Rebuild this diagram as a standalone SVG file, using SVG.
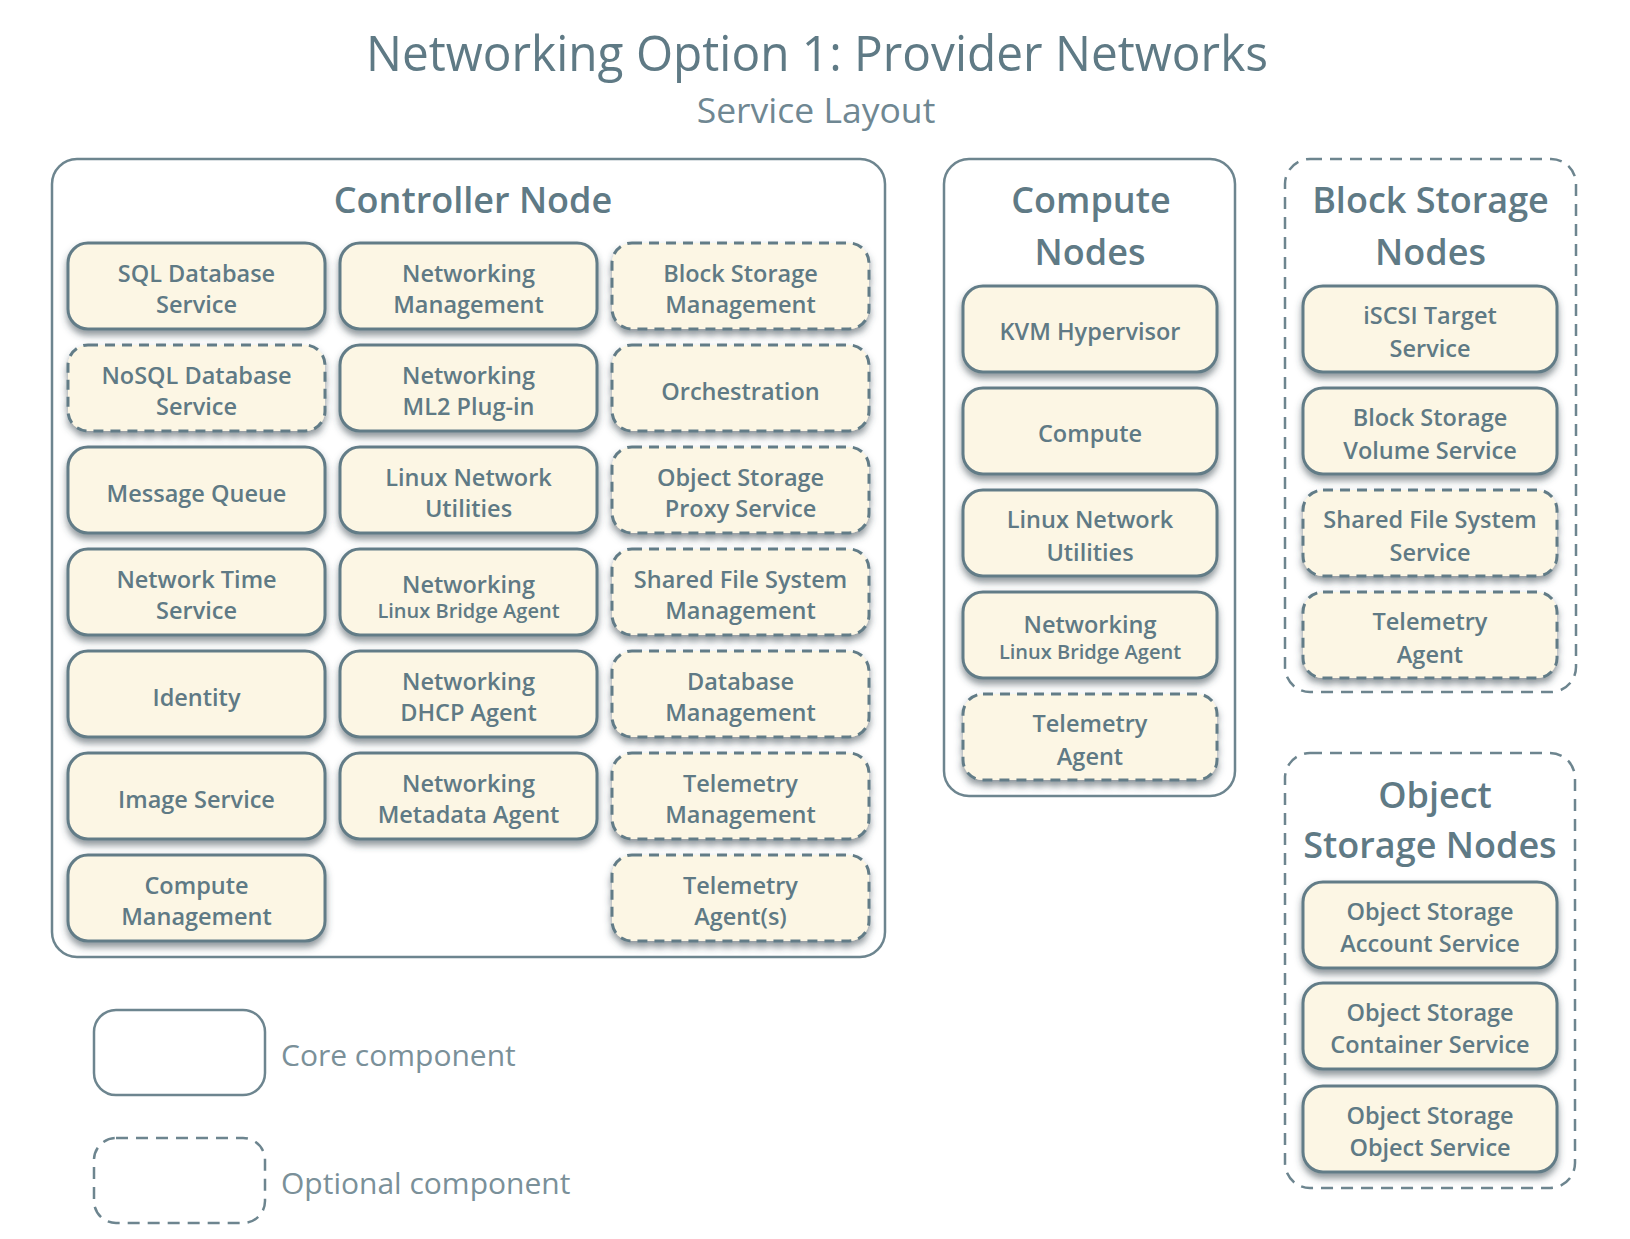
<svg xmlns="http://www.w3.org/2000/svg" width="1630" height="1239" viewBox="0 0 1630 1239">
  <defs>
    <filter id="sh" x="-10%" y="-15%" width="120%" height="150%">
      <feDropShadow dx="0" dy="5" stdDeviation="3.5" flood-color="#34454d" flood-opacity="0.55"/>
    </filter>
    <style>
      .title { font-family: "Open Sans", "Liberation Sans", sans-serif; font-weight: 400; fill: #5f7a85; }
      .sub { font-family: "Open Sans", "Liberation Sans", sans-serif; font-weight: 400; fill: #6f8792; }
      .ctr { fill: #ffffff; stroke: #6d858f; stroke-width: 2.5; }
      .ctr.opt { stroke-dasharray: 12 8; }
      .ctitle { font-family: "Open Sans", "Liberation Sans", sans-serif; font-weight: 600; font-size: 36px; fill: #5f7a85; text-anchor: middle; }
      .box { fill: #fcf6e4; stroke: #627c87; stroke-width: 3; filter: url(#sh); }
      .box.opt { stroke-dasharray: 10 7; }
      .lbl { font-family: "Open Sans", "Liberation Sans", sans-serif; font-weight: 600; font-size: 23.5px; fill: #5f7a85; text-anchor: middle; }
      .small { font-size: 20px; }
      .leg { fill: none; stroke: #6d858f; stroke-width: 2.5; }
      .leg.opt { stroke-dasharray: 12 8; }
      .legt { font-family: "Open Sans", "Liberation Sans", sans-serif; font-weight: 400; font-size: 30px; fill: #7a9099; }
    </style>
  </defs>

  <!-- heading -->
  <text class="title" x="817" y="71" font-size="50" text-anchor="middle" textLength="902" lengthAdjust="spacingAndGlyphs">Networking Option 1: Provider Networks</text>
  <text class="sub" x="816" y="123" font-size="35.5" text-anchor="middle">Service Layout</text>

  <!-- Controller Node -->
  <g id="controller-node">
    <rect class="ctr" x="52" y="159" width="833" height="798" rx="25"/>
    <text class="ctitle" x="473" y="213">Controller Node</text>

    <g id="sql-db"><rect class="box" x="68" y="243" width="257" height="86" rx="20"/>
      <text class="lbl"><tspan x="196.5" y="282">SQL Database</tspan><tspan x="196.5" y="313">Service</tspan></text></g>
    <g id="nosql-db"><rect class="box opt" x="68" y="345" width="257" height="86" rx="20"/>
      <text class="lbl"><tspan x="196.5" y="384">NoSQL Database</tspan><tspan x="196.5" y="415">Service</tspan></text></g>
    <g id="message-queue"><rect class="box" x="68" y="447" width="257" height="86" rx="20"/>
      <text class="lbl" x="196.5" y="502">Message Queue</text></g>
    <g id="ntp"><rect class="box" x="68" y="549" width="257" height="86" rx="20"/>
      <text class="lbl"><tspan x="196.5" y="588">Network Time</tspan><tspan x="196.5" y="619">Service</tspan></text></g>
    <g id="identity"><rect class="box" x="68" y="651" width="257" height="86" rx="20"/>
      <text class="lbl" x="196.5" y="706">Identity</text></g>
    <g id="image-service"><rect class="box" x="68" y="753" width="257" height="86" rx="20"/>
      <text class="lbl" x="196.5" y="808">Image Service</text></g>
    <g id="compute-mgmt"><rect class="box" x="68" y="855" width="257" height="86" rx="20"/>
      <text class="lbl"><tspan x="196.5" y="894">Compute</tspan><tspan x="196.5" y="925">Management</tspan></text></g>

    <g id="net-mgmt"><rect class="box" x="340" y="243" width="257" height="86" rx="20"/>
      <text class="lbl"><tspan x="468.5" y="282">Networking</tspan><tspan x="468.5" y="313">Management</tspan></text></g>
    <g id="net-ml2"><rect class="box" x="340" y="345" width="257" height="86" rx="20"/>
      <text class="lbl"><tspan x="468.5" y="384">Networking</tspan><tspan x="468.5" y="415">ML2 Plug-in</tspan></text></g>
    <g id="ctl-linux-net"><rect class="box" x="340" y="447" width="257" height="86" rx="20"/>
      <text class="lbl"><tspan x="468.5" y="486">Linux Network</tspan><tspan x="468.5" y="517">Utilities</tspan></text></g>
    <g id="ctl-lb-agent"><rect class="box" x="340" y="549" width="257" height="86" rx="20"/>
      <text class="lbl"><tspan x="468.5" y="593">Networking</tspan><tspan class="small" x="468.5" y="618">Linux Bridge Agent</tspan></text></g>
    <g id="dhcp-agent"><rect class="box" x="340" y="651" width="257" height="86" rx="20"/>
      <text class="lbl"><tspan x="468.5" y="690">Networking</tspan><tspan x="468.5" y="721">DHCP Agent</tspan></text></g>
    <g id="metadata-agent"><rect class="box" x="340" y="753" width="257" height="86" rx="20"/>
      <text class="lbl"><tspan x="468.5" y="792">Networking</tspan><tspan x="468.5" y="823">Metadata Agent</tspan></text></g>

    <g id="block-mgmt"><rect class="box opt" x="612" y="243" width="257" height="86" rx="20"/>
      <text class="lbl"><tspan x="740.5" y="282">Block Storage</tspan><tspan x="740.5" y="313">Management</tspan></text></g>
    <g id="orchestration"><rect class="box opt" x="612" y="345" width="257" height="86" rx="20"/>
      <text class="lbl" x="740.5" y="400">Orchestration</text></g>
    <g id="object-proxy"><rect class="box opt" x="612" y="447" width="257" height="86" rx="20"/>
      <text class="lbl"><tspan x="740.5" y="486">Object Storage</tspan><tspan x="740.5" y="517">Proxy Service</tspan></text></g>
    <g id="share-mgmt"><rect class="box opt" x="612" y="549" width="257" height="86" rx="20"/>
      <text class="lbl"><tspan x="740.5" y="588">Shared File System</tspan><tspan x="740.5" y="619">Management</tspan></text></g>
    <g id="db-mgmt"><rect class="box opt" x="612" y="651" width="257" height="86" rx="20"/>
      <text class="lbl"><tspan x="740.5" y="690">Database</tspan><tspan x="740.5" y="721">Management</tspan></text></g>
    <g id="telemetry-mgmt"><rect class="box opt" x="612" y="753" width="257" height="86" rx="20"/>
      <text class="lbl"><tspan x="740.5" y="792">Telemetry</tspan><tspan x="740.5" y="823">Management</tspan></text></g>
    <g id="telemetry-agents"><rect class="box opt" x="612" y="855" width="257" height="86" rx="20"/>
      <text class="lbl"><tspan x="740.5" y="894">Telemetry</tspan><tspan x="740.5" y="925">Agent(s)</tspan></text></g>
  </g>

  <!-- Compute Nodes -->
  <g id="compute-nodes">
    <rect class="ctr" x="944" y="159" width="291" height="637" rx="25"/>
    <text class="ctitle"><tspan x="1091" y="213">Compute</tspan><tspan x="1090" y="265">Nodes</tspan></text>
    <g id="kvm"><rect class="box" x="963" y="286" width="254" height="86" rx="20"/>
      <text class="lbl" x="1090" y="340">KVM Hypervisor</text></g>
    <g id="compute"><rect class="box" x="963" y="388" width="254" height="86" rx="20"/>
      <text class="lbl" x="1090" y="442">Compute</text></g>
    <g id="cmp-linux-net"><rect class="box" x="963" y="490" width="254" height="86" rx="20"/>
      <text class="lbl"><tspan x="1090" y="528">Linux Network</tspan><tspan x="1090" y="561">Utilities</tspan></text></g>
    <g id="cmp-lb-agent"><rect class="box" x="963" y="592" width="254" height="86" rx="20"/>
      <text class="lbl"><tspan x="1090" y="633">Networking</tspan><tspan class="small" x="1090" y="659">Linux Bridge Agent</tspan></text></g>
    <g id="cmp-telemetry"><rect class="box opt" x="963" y="694" width="254" height="86" rx="20"/>
      <text class="lbl"><tspan x="1090" y="732">Telemetry</tspan><tspan x="1090" y="765">Agent</tspan></text></g>
  </g>

  <!-- Block Storage Nodes -->
  <g id="block-storage-nodes">
    <rect class="ctr opt" x="1285" y="159" width="291" height="533" rx="25"/>
    <text class="ctitle"><tspan x="1430.5" y="213">Block Storage</tspan><tspan x="1430.5" y="265">Nodes</tspan></text>
    <g id="iscsi"><rect class="box" x="1303" y="286" width="254" height="86" rx="20"/>
      <text class="lbl"><tspan x="1430" y="324">iSCSI Target</tspan><tspan x="1430" y="357">Service</tspan></text></g>
    <g id="volume"><rect class="box" x="1303" y="388" width="254" height="86" rx="20"/>
      <text class="lbl"><tspan x="1430" y="426">Block Storage</tspan><tspan x="1430" y="459">Volume Service</tspan></text></g>
    <g id="share-service"><rect class="box opt" x="1303" y="490" width="254" height="86" rx="20"/>
      <text class="lbl"><tspan x="1430" y="528">Shared File System</tspan><tspan x="1430" y="561">Service</tspan></text></g>
    <g id="blk-telemetry"><rect class="box opt" x="1303" y="592" width="254" height="86" rx="20"/>
      <text class="lbl"><tspan x="1430" y="630">Telemetry</tspan><tspan x="1430" y="663">Agent</tspan></text></g>
  </g>

  <!-- Object Storage Nodes -->
  <g id="object-storage-nodes">
    <rect class="ctr opt" x="1285" y="753" width="290" height="435" rx="25"/>
    <text class="ctitle"><tspan x="1435" y="808">Object</tspan><tspan x="1430" y="858">Storage Nodes</tspan></text>
    <g id="account"><rect class="box" x="1303" y="882" width="254" height="86" rx="20"/>
      <text class="lbl"><tspan x="1430" y="920">Object Storage</tspan><tspan x="1430" y="952">Account Service</tspan></text></g>
    <g id="container"><rect class="box" x="1303" y="983" width="254" height="86" rx="20"/>
      <text class="lbl"><tspan x="1430" y="1021">Object Storage</tspan><tspan x="1430" y="1053">Container Service</tspan></text></g>
    <g id="object"><rect class="box" x="1303" y="1086" width="254" height="86" rx="20"/>
      <text class="lbl"><tspan x="1430" y="1124">Object Storage</tspan><tspan x="1430" y="1156">Object Service</tspan></text></g>
  </g>

  <!-- no connectors in this layout -->
  <g id="connectors"/>

  <!-- legend -->
  <g id="legend-core">
    <rect class="leg" x="94" y="1010" width="171" height="85" rx="22"/>
    <text class="legt" x="281" y="1066">Core component</text>
  </g>
  <g id="legend-optional">
    <rect class="leg opt" x="94" y="1138" width="171" height="85" rx="22"/>
    <text class="legt" x="281" y="1194">Optional component</text>
  </g>
</svg>
